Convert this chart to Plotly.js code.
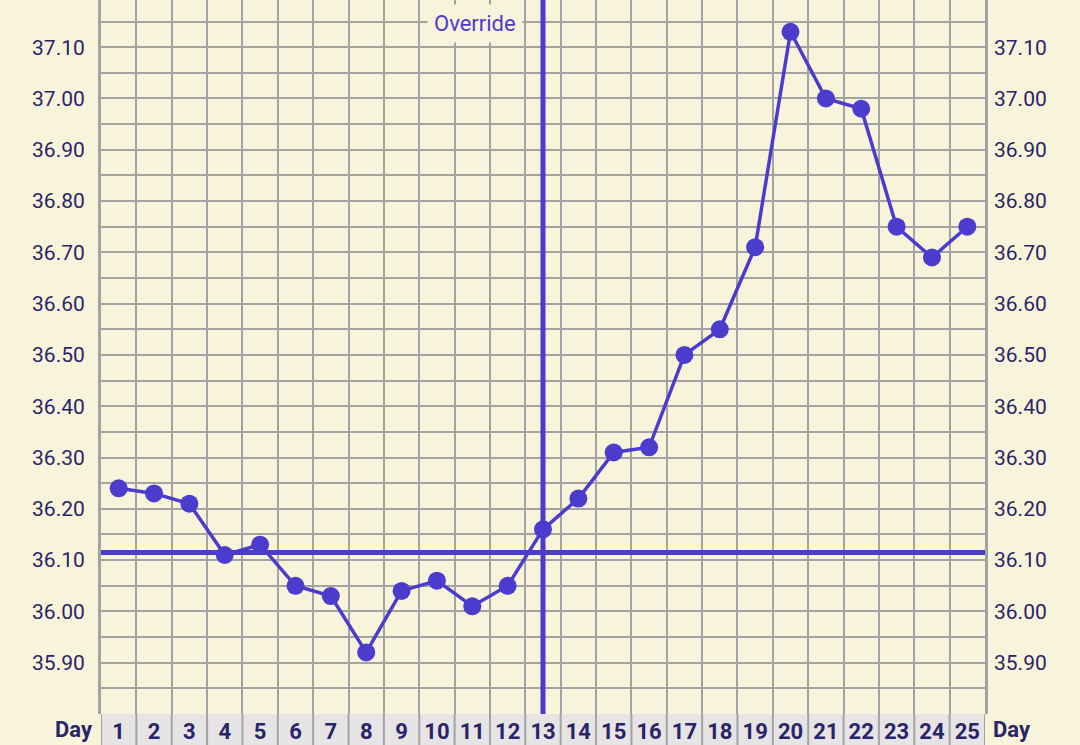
<!DOCTYPE html>
<html>
<head>
<meta charset="utf-8">
<script src="https://cdn.plot.ly/plotly-3.0.1.min.js"></script>
<style>
html,body{margin:0;padding:0;background:#f8f4dc;}
#chart{width:1080px;height:745px;}
</style>
</head>
<body>
<div id="chart"></div>
<script>
const days = [1,2,3,4,5,6,7,8,9,10,11,12,13,14,15,16,17,18,19,20,21,22,23,24,25];
const temps = [36.24,36.23,36.21,36.11,36.13,36.05,36.03,35.92,36.04,36.06,36.01,36.05,36.16,36.22,36.31,36.32,36.50,36.55,36.71,37.13,37.00,36.98,36.75,36.69,36.75];
const yTickVals = [35.9,36.0,36.1,36.2,36.3,36.4,36.5,36.6,36.7,36.8,36.9,37.0,37.1];
const coverline = 36.115;
const overrideDay = 13;
const overrideLabel = "Override";
const dayLabel = "Day";

const bg = '#f8f4dc';
const purple = '#4b3ccd';
const grid = '#a3a3a3';
const navy = '#2a2468';
const cellFill = '#e6e4e4';

const plotH = 714;
const bottomPaper = -31/plotH;

const shapes = [];
shapes.push({type:'rect', xref:'x', yref:'paper', x0:days[0]-0.5, x1:days[days.length-1]+0.5, y0:bottomPaper, y1:0, fillcolor:cellFill, line:{width:0}, layer:'below'});
[days[0]-1].concat(days).forEach(d => {
  shapes.push({type:'line', xref:'x', yref:'paper', x0:d+0.5, x1:d+0.5, y0:bottomPaper, y1:0, line:{color:grid, width:2}});
});
shapes.push({type:'line', xref:'paper', yref:'y', x0:0, x1:1, y0:coverline, y1:coverline, line:{color:purple, width:5}});
shapes.push({type:'line', xref:'x', yref:'paper', x0:overrideDay, x1:overrideDay, y0:0, y1:1, line:{color:purple, width:5}});

const data = [
  {x:days, y:temps, type:'scatter', mode:'lines+markers', line:{color:purple, width:3.5}, marker:{color:purple, size:18}, hoverinfo:'skip', cliponaxis:false},
  {x:days, y:temps, type:'scatter', mode:'none', yaxis:'y2', hoverinfo:'skip', showlegend:false}
];

const yCommon = {
  range:[35.80, 37.192],
  tickvals:yTickVals,
  ticktext:yTickVals.map(v => v.toFixed(2)),
  tickfont:{family:'Roboto', size:21, color:navy},
  ticks:'',
  zeroline:false
};

const layout = {
  width:1080, height:745,
  margin:{l:101, r:95, t:0, b:31, pad:0},
  paper_bgcolor:bg, plot_bgcolor:bg,
  showlegend:false,
  xaxis:{
    range:[days[0]-0.5, days[days.length-1]+0.5],
    tickvals:days, ticktext:days.map(String),
    tickfont:{family:'Roboto', size:22, color:navy, weight:'bold'},
    showgrid:false, zeroline:false, ticks:'', ticklabelstandoff:2,
    minor:{showgrid:true, tick0:0.5, dtick:1, gridcolor:grid, gridwidth:2},
    fixedrange:true
  },
  yaxis: Object.assign({}, yCommon, {
    side:'left', showgrid:false, ticklabelstandoff:9,
    minor:{showgrid:true, tick0:35.8, dtick:0.05, gridcolor:grid, gridwidth:2},
    showline:true, linecolor:grid, linewidth:3, mirror:true
  }),
  yaxis2: Object.assign({}, yCommon, {
    side:'right', overlaying:'y', showgrid:false, ticklabelstandoff:8
  }),
  shapes:shapes,
  annotations:[
    {text:overrideLabel, xref:'x', yref:'paper', x:overrideDay, y:(plotH-24)/plotH, xanchor:'right', yanchor:'middle', xshift:-20, showarrow:false,
     font:{family:'Roboto', size:22, color:purple}, bgcolor:bg, borderpad:6},
    {text:dayLabel, xref:'paper', yref:'paper', x:-6/884, y:-15/plotH, xanchor:'right', yanchor:'middle', showarrow:false,
     font:{family:'Roboto', size:22, color:navy, weight:'bold'}},
    {text:dayLabel, xref:'paper', yref:'paper', x:1+6/884, y:-15/plotH, xanchor:'left', yanchor:'middle', showarrow:false,
     font:{family:'Roboto', size:22, color:navy, weight:'bold'}}
  ]
};

Plotly.newPlot('chart', data, layout, {displayModeBar:false, staticPlot:true});
</script>
</body>
</html>
